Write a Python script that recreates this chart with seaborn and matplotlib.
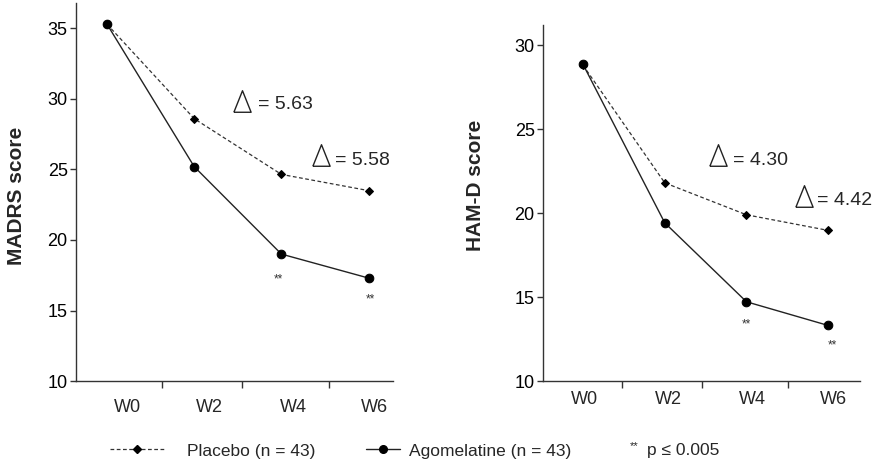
import numpy as np
import pandas as pd
import matplotlib
matplotlib.use("Agg")
import matplotlib.pyplot as plt
from matplotlib.lines import Line2D
import seaborn as sns

# Datos
weeks = ["W0", "W2", "W4", "W6"]
madrs_placebo = [35.3, 28.6, 24.65, 23.5]
madrs_agomelatine = [35.3, 25.2, 19.0, 17.3]
hamd_placebo = [28.8, 21.8, 19.9, 18.97]
hamd_agomelatine = [28.85, 19.42, 14.72, 13.31]

madrs_deltas = ["= 5.63", "= 5.58"]
hamd_deltas = ["= 4.30", "= 4.42"]

sns.set_style("ticks")
plt.rcParams['font.family'] = ['Liberation Sans', 'DejaVu Sans']

fig = plt.figure(figsize=(8.75, 4.63), dpi=100)
ax1 = fig.add_axes([0.0869, 0.177, 0.3623, 0.8165])
ax2 = fig.add_axes([0.6206, 0.177, 0.3623, 0.769])

x = np.arange(len(weeks))

# triángulo hueco, más alto que ancho
delta_marker = [(-0.8, -1), (0, 1), (0.8, -1), (-0.8, -1)]


def draw_panel(ax, placebo, agomelatine):
    df = pd.DataFrame({"x": x, "placebo": placebo, "ago": agomelatine})
    sns.lineplot(data=df, x="x", y="placebo", ax=ax, color="#333333", lw=0.9,
                 linestyle=(0, (3, 2)), marker="D", markersize=4.2,
                 markeredgecolor="black", markerfacecolor="black")
    sns.lineplot(data=df, x="x", y="ago", ax=ax, color="#222222", lw=1.0,
                 marker="o", markersize=6.2, markeredgecolor="black",
                 markerfacecolor="black")
    sns.despine(ax=ax)
    for s in ["left", "bottom"]:
        ax.spines[s].set_color("#333333")
        ax.spines[s].set_linewidth(1.0)
    ax.tick_params(axis="y", length=4, width=1, color="#333333",
                   labelsize=13, pad=2, labelcolor="black")
    ax.set_xlabel("")


# Panel MADRS
draw_panel(ax1, madrs_placebo, madrs_agomelatine)
ax1.set_xlim(-0.355, 3.28)
ax1.set_ylim(10, 36.8)
ax1.set_yticks([10, 15, 20, 25, 30, 35])
ax1.set_xticks([0.63, 1.55, 2.54])
ax1.set_xticklabels([])
ax1.set_xticks([0.23, 1.18, 2.14, 3.07], minor=True)
ax1.set_xticklabels(weeks, minor=True)
ax1.tick_params(axis="x", which="major", length=5, width=1, color="#333333")
ax1.tick_params(axis="x", which="minor", length=0, labelsize=13, pad=13)
ax1.set_ylabel("MADRS score", fontsize=15, fontweight="bold")
ax1.yaxis.set_label_coords(-0.158, 0.489)

# Panel HAM-D
draw_panel(ax2, hamd_placebo, hamd_agomelatine)
ax2.set_xlim(-0.49, 3.39)
ax2.set_ylim(10, 31.2)
ax2.set_yticks([10, 15, 20, 25, 30])
ax2.set_xticks([0.48, 1.46, 2.51])
ax2.set_xticklabels([])
ax2.set_xticks([0.02, 1.04, 2.07, 3.06], minor=True)
ax2.set_xticklabels(weeks, minor=True)
ax2.tick_params(axis="x", which="major", length=5, width=1, color="#333333")
ax2.tick_params(axis="x", which="minor", length=0, labelsize=13, pad=7)
ax2.set_ylabel("HAM-D score", fontsize=15, fontweight="bold")
ax2.yaxis.set_label_coords(-0.183, 0.55)

# Anotaciones delta
txt_kw = dict(fontsize=14, ha="left", va="center")
for ax, deltas, tpos, dpos in [
    (ax1, madrs_deltas, [(1.55, 29.86), (2.45, 26.0)], [(1.73, 29.64), (2.61, 25.64)]),
    (ax2, hamd_deltas, [(1.65, 23.43), (2.71, 21.04)], [(1.84, 23.13), (2.86, 20.75)]),
]:
    for (tx, ty), (dx, dy), lab in zip(tpos, dpos, deltas):
        ax.plot([tx], [ty], marker=delta_marker, markersize=15.5,
                markerfacecolor="none", markeredgecolor="#222222",
                markeredgewidth=1.0, linestyle="none")
        ax.text(dx, dy, lab, **txt_kw)

# Asteriscos de significancia
for ax, pts in [(ax1, [(1.97, 17.2), (3.02, 15.8)]),
                (ax2, [(2.0, 13.4), (3.05, 12.1)])]:
    for sx, sy in pts:
        ax.text(sx, sy, "**", fontsize=8.5, ha="center", va="center", color="#333333")

# Leyenda
h_pla = Line2D([], [], color="#333333", lw=0.9, linestyle=(0, (3, 2)),
               marker="D", markersize=4, markerfacecolor="black", markeredgecolor="black")
h_ago = Line2D([], [], color="#222222", lw=1.0, marker="o", markersize=5.5,
               markerfacecolor="black", markeredgecolor="black")
fig.legend([h_pla], ["Placebo (n = 43)"], loc="center left",
           bbox_to_anchor=(0.126, 0.026), frameon=False, fontsize=12.5,
           handlelength=3.1, handletextpad=1.3, borderpad=0, borderaxespad=0)
fig.legend([h_ago], ["Agomelatine (n = 43)"], loc="center left",
           bbox_to_anchor=(0.418, 0.026), frameon=False, fontsize=12.5,
           handlelength=2.0, handletextpad=0.5, borderpad=0, borderaxespad=0)
fig.text(0.72, 0.036, "**", fontsize=8, ha="left", va="center")
fig.text(0.739, 0.026, "p \u2264 0.005", fontsize=12.5, ha="left", va="center",
         family=["Liberation Sans", "DejaVu Sans"])

fig.savefig("out.png", dpi=100)
